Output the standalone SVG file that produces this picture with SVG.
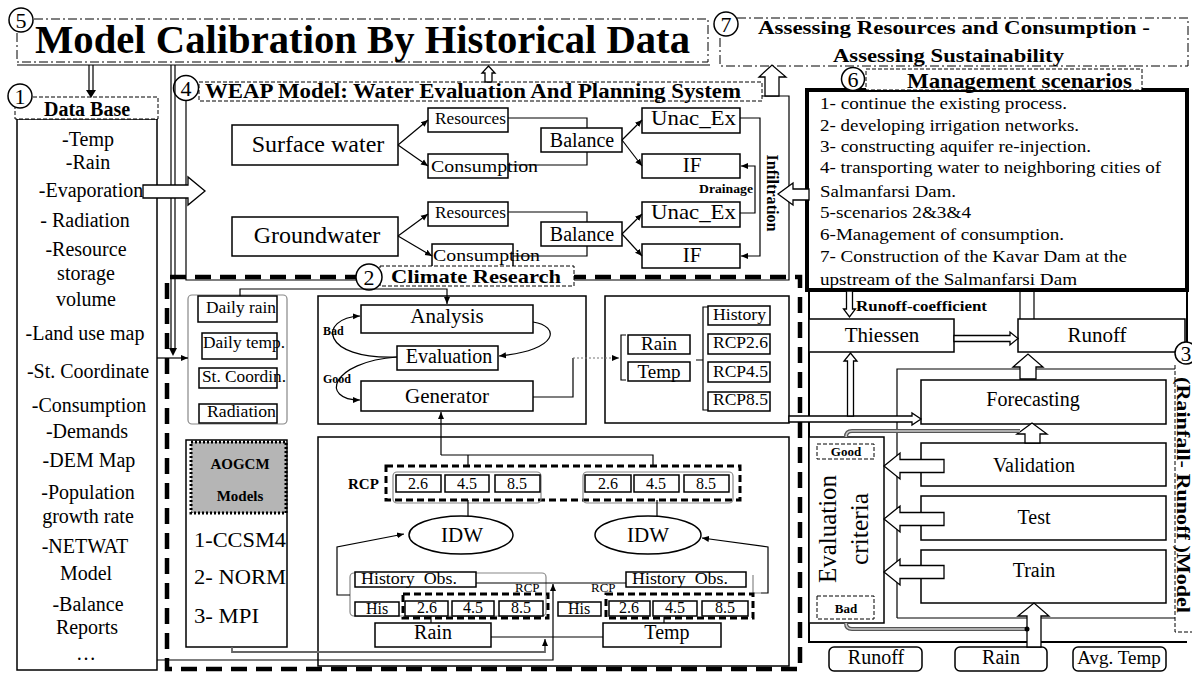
<svg xmlns="http://www.w3.org/2000/svg" width="1192" height="675" viewBox="0 0 1192 675">
<defs>
<style>
text{font-family:"Liberation Serif","Times New Roman",serif;fill:#000}
.b{font-weight:bold}
.m{text-anchor:middle}
.bx{fill:#fff;stroke:#000;stroke-width:1.5}
.ln{fill:none;stroke:#000;stroke-width:1.2}
.dl{fill:none;stroke:#000;stroke-width:1;stroke-dasharray:4 2}
.dlw{fill:#fff;stroke:#000;stroke-width:1;stroke-dasharray:4 2}
.dd{fill:none;stroke:#000;stroke-width:1;stroke-dasharray:9 3 2 3}
.td{fill:none;stroke:#000;stroke-width:3;stroke-dasharray:7 4}
.bd{fill:none;stroke:#000;stroke-width:4.5;stroke-dasharray:16 9}
.gr{fill:none;stroke:#888;stroke-width:1.2}
.oa{fill:#fff;stroke:#000;stroke-width:1.3}
.cn{fill:#fff;stroke:#000;stroke-width:1.5}
.gl{fill:none;stroke:#555;stroke-width:4}
.gli{fill:none;stroke:#ccc;stroke-width:1.5}
.dot{fill:none;stroke:#777;stroke-width:1.2;stroke-dasharray:2 2}
</style>
<marker id="ah" markerWidth="8" markerHeight="8" refX="7" refY="4" orient="auto" markerUnits="userSpaceOnUse"><path d="M0,1 L7,4 L0,7 z" fill="#000"/></marker>
</defs>
<rect width="1192" height="675" fill="#fff"/>

<g id="climate-frame">
<path d="M170,277 H800 V669 H167 V277" class="bd"/>
</g>

<g id="n5">
<rect x="17" y="19" width="691" height="43" class="dd"/>
<line x1="17" y1="65" x2="710" y2="65" class="ln"/>
<text x="35" y="53" font-size="39" class="b" textLength="655" lengthAdjust="spacingAndGlyphs">Model Calibration By Historical Data</text>
<circle cx="21" cy="20" r="12" class="cn"/><text x="21" y="28" font-size="22" class="m">5</text>
</g>

<g id="n7">
<rect x="720" y="18" width="468" height="48" class="dd"/>
<text x="758" y="34" font-size="19" class="b" textLength="392" lengthAdjust="spacingAndGlyphs">Assessing Resources and Consumption -</text>
<text x="833" y="62" font-size="19" class="b" textLength="231" lengthAdjust="spacingAndGlyphs">Assessing Sustainability</text>
<circle cx="726" cy="24" r="12" class="cn"/><text x="726" y="32" font-size="22" class="m">7</text>
</g>

<g id="n1">
<rect x="17" y="119" width="140" height="551" class="bx"/>
<rect x="15" y="97" width="143" height="22" class="dlw"/>
<text x="87" y="116" font-size="20" class="b m">Data Base</text>
<circle cx="20" cy="96" r="12" class="cn"/><text x="20" y="104" font-size="22" class="m">1</text>
<g font-size="20">
<text x="88" y="146" class="m">-Temp</text>
<text x="88" y="169" class="m">-Rain</text>
<text x="91" y="197" class="m">-Evaporation</text>
<text x="85" y="227" class="m">- Radiation</text>
<text x="86" y="256" class="m">-Resource</text>
<text x="86" y="280" class="m">storage</text>
<text x="86" y="306" class="m">volume</text>
<text x="85" y="340" class="m">-Land use map</text>
<text x="88" y="378" class="m">-St. Coordinate</text>
<text x="89" y="412" class="m">-Consumption</text>
<text x="87" y="438" class="m">-Demands</text>
<text x="89" y="467" class="m">-DEM Map</text>
<text x="88" y="499" class="m">-Population</text>
<text x="88" y="523" class="m">growth rate</text>
<text x="85" y="553" class="m">-NETWAT</text>
<text x="86" y="580" class="m">Model</text>
<text x="88" y="611" class="m">-Balance</text>
<text x="87" y="634" class="m">Reports</text>
<text x="86" y="660" class="m">…</text>
</g>
</g>

<g id="n4">
<path d="M186,101 V280 H789 V96 H762" class="ln"/>
<rect x="199" y="82" width="563" height="19" class="dlw"/>
<text x="205" y="98" font-size="20" class="b" textLength="536" lengthAdjust="spacingAndGlyphs">WEAP Model: Water Evaluation And Planning System</text>
<circle cx="186" cy="88" r="12.5" class="cn"/><text x="186" y="96" font-size="22" class="m">4</text>

<rect x="232" y="125" width="166" height="40" class="bx"/>
<text x="318" y="152" font-size="24" class="m">Surface water</text>
<rect x="232" y="217" width="166" height="39" class="bx"/>
<text x="317" y="243" font-size="24" class="m">Groundwater</text>

<rect x="428" y="108" width="80" height="24" class="bx"/>
<text x="435" y="124" font-size="17" textLength="71" lengthAdjust="spacingAndGlyphs">Resources</text>
<rect x="428" y="154" width="80" height="24" class="bx"/>
<text x="431" y="172" font-size="17" textLength="107" lengthAdjust="spacingAndGlyphs">Consumption</text>
<rect x="428" y="202" width="80" height="24" class="bx"/>
<text x="435" y="218" font-size="17" textLength="71" lengthAdjust="spacingAndGlyphs">Resources</text>
<rect x="432" y="244" width="81" height="24" class="bx"/>
<text x="433" y="261" font-size="17" textLength="107" lengthAdjust="spacingAndGlyphs">Consumption</text>

<rect x="541" y="128" width="81" height="24" class="bx"/>
<text x="582" y="147" font-size="20" class="m">Balance</text>
<rect x="541" y="222" width="81" height="24" class="bx"/>
<text x="582" y="241" font-size="20" class="m">Balance</text>

<rect x="642" y="108" width="98" height="25" class="bx"/>
<text x="651" y="125" font-size="21" textLength="85" lengthAdjust="spacingAndGlyphs">Unac_Ex</text>
<rect x="642" y="154" width="98" height="24" class="bx"/>
<text x="692" y="172" font-size="21" class="m">IF</text>
<rect x="642" y="202" width="98" height="25" class="bx"/>
<text x="651" y="219" font-size="21" textLength="85" lengthAdjust="spacingAndGlyphs">Unac_Ex</text>
<rect x="642" y="244" width="98" height="24" class="bx"/>
<text x="692" y="262" font-size="21" class="m">IF</text>

<text x="699" y="193" font-size="13" class="b" textLength="54" lengthAdjust="spacingAndGlyphs">Drainage</text>
<text transform="translate(767,193) rotate(90)" font-size="16" class="b m" textLength="77" lengthAdjust="spacingAndGlyphs">Infiltration</text>
</g>

<g id="n6">
<rect x="807" y="90" width="380" height="200" fill="#fff" stroke="#000" stroke-width="4"/>
<rect x="866" y="69" width="276" height="21" class="dlw"/>
<text x="907" y="88" font-size="21" class="b" textLength="225" lengthAdjust="spacingAndGlyphs">Management scenarios</text>
<circle cx="853" cy="79" r="11.5" class="cn"/><text x="853" y="87" font-size="22" class="m">6</text>
<g font-size="16">
<text x="820" y="109" textLength="247" lengthAdjust="spacingAndGlyphs">1- continue the existing process.</text>
<text x="820" y="131" textLength="259" lengthAdjust="spacingAndGlyphs">2- developing irrigation networks.</text>
<text x="820" y="152" textLength="271" lengthAdjust="spacingAndGlyphs">3- constructing aquifer re-injection.</text>
<text x="820" y="173" textLength="341" lengthAdjust="spacingAndGlyphs">4- transporting water to neighboring cities of</text>
<text x="820" y="197" textLength="136" lengthAdjust="spacingAndGlyphs">Salmanfarsi Dam.</text>
<text x="820" y="218" textLength="151" lengthAdjust="spacingAndGlyphs">5-scenarios 2&amp;3&amp;4</text>
<text x="820" y="240" textLength="244" lengthAdjust="spacingAndGlyphs">6-Management of consumption.</text>
<text x="820" y="262" textLength="307" lengthAdjust="spacingAndGlyphs">7- Construction of the Kavar Dam at the</text>
<text x="820" y="285" textLength="257" lengthAdjust="spacingAndGlyphs">upstream of the Salmanfarsi Dam</text>
</g>
</g>

<g id="n2">
<rect x="380" y="266" width="194" height="20" class="dlw"/>
<text x="391" y="283" font-size="19" class="b" textLength="170" lengthAdjust="spacingAndGlyphs">Climate Research</text>
<circle cx="369" cy="277" r="13" class="cn"/><text x="369" y="285" font-size="22" class="m">2</text>
</g>

<g id="inputs-list">
<rect x="188" y="295" width="99" height="129" rx="4" class="gr"/>
<rect x="198" y="296" width="79" height="26" class="bx"/>
<text x="206" y="313" font-size="17" textLength="70" lengthAdjust="spacingAndGlyphs">Daily rain</text>
<rect x="202" y="333" width="75" height="26" class="bx"/>
<text x="203" y="348" font-size="17" textLength="82" lengthAdjust="spacingAndGlyphs">Daily temp.</text>
<rect x="199" y="368" width="78" height="20" class="bx"/>
<text x="202" y="382" font-size="16" textLength="84" lengthAdjust="spacingAndGlyphs">St. Coordin.</text>
<rect x="199" y="404" width="78" height="19" class="bx"/>
<text x="207" y="417" font-size="16" textLength="69" lengthAdjust="spacingAndGlyphs">Radiation</text>
</g>

<g id="generator-block">
<rect x="318" y="296" width="268" height="128" class="bx"/>
<rect x="361" y="305" width="172" height="28" class="bx"/>
<text x="447" y="323" font-size="21" class="m">Analysis</text>
<rect x="397" y="346" width="101" height="24" class="bx"/>
<text x="449" y="363" font-size="20" class="m">Evaluation</text>
<rect x="361" y="381" width="172" height="30" class="bx"/>
<text x="447" y="403" font-size="21" class="m">Generator</text>
<text x="323" y="335" font-size="12" class="b">Bad</text>
<text x="323" y="383" font-size="12" class="b">Good</text>
</g>

<g id="rcp-list">
<rect x="605" y="296" width="184" height="127" class="bx"/>
<path d="M626,335 H621 V380 H626" class="ln"/>
<rect x="628" y="335" width="62" height="19" class="bx"/>
<text x="659" y="350" font-size="19" class="m">Rain</text>
<rect x="628" y="362" width="62" height="19" class="bx"/>
<text x="659" y="378" font-size="19" class="m">Temp</text>
<path d="M708,307 H703 V410 H708 M703,360 H696" class="ln"/>
<rect x="708" y="306" width="62" height="19" class="bx"/>
<text x="713" y="320" font-size="17" textLength="53" lengthAdjust="spacingAndGlyphs">History</text>
<rect x="708" y="334" width="62" height="20" class="bx"/>
<text x="713" y="348" font-size="17" textLength="55" lengthAdjust="spacingAndGlyphs">RCP2.6</text>
<rect x="708" y="362" width="62" height="20" class="bx"/>
<text x="713" y="377" font-size="17" textLength="55" lengthAdjust="spacingAndGlyphs">RCP4.5</text>
<rect x="708" y="392" width="62" height="19" class="bx"/>
<text x="713" y="405" font-size="17" textLength="55" lengthAdjust="spacingAndGlyphs">RCP8.5</text>
</g>

<g id="aogcm">
<rect x="186" y="440" width="101" height="207" class="bx"/>
<rect x="191" y="442" width="95" height="71" fill="#b5b5b5" stroke="#000" stroke-width="3" stroke-dasharray="2 2"/>
<text x="240" y="469" font-size="15" class="b m">AOGCM</text>
<text x="240" y="501" font-size="15" class="b m">Models</text>
<text x="194" y="547" font-size="21" textLength="92" lengthAdjust="spacingAndGlyphs">1-CCSM4</text>
<text x="194" y="584" font-size="21" textLength="92" lengthAdjust="spacingAndGlyphs">2- NORM</text>
<text x="194" y="623" font-size="21" textLength="65" lengthAdjust="spacingAndGlyphs">3- MPI</text>
</g>

<g id="downscale">
<rect x="318" y="437" width="471" height="229" class="bx"/>
<rect x="386" y="466" width="354" height="34" class="td"/>
<text x="348" y="489" font-size="15" class="b">RCP</text>
<rect x="393" y="472" width="148" height="31" rx="4" class="gr"/>
<rect x="583" y="472" width="150" height="31" rx="4" class="gr"/>
<rect x="396" y="475" width="45" height="17" class="bx"/><text x="418" y="489" font-size="16" class="m">2.6</text>
<rect x="445" y="475" width="44" height="17" class="bx"/><text x="467" y="489" font-size="16" class="m">4.5</text>
<rect x="495" y="475" width="45" height="17" class="bx"/><text x="517" y="489" font-size="16" class="m">8.5</text>
<rect x="585" y="475" width="46" height="17" class="bx"/><text x="608" y="489" font-size="16" class="m">2.6</text>
<rect x="634" y="475" width="45" height="17" class="bx"/><text x="656" y="489" font-size="16" class="m">4.5</text>
<rect x="684" y="475" width="45" height="17" class="bx"/><text x="706" y="489" font-size="16" class="m">8.5</text>

<ellipse cx="461" cy="535" rx="52" ry="19" class="bx"/>
<text x="462" y="542" font-size="21" class="m">IDW</text>
<ellipse cx="648" cy="535" rx="53" ry="19" class="bx"/>
<text x="648" y="542" font-size="21" class="m">IDW</text>

<rect x="350" y="573" width="196" height="43" rx="4" class="gr"/>
<rect x="355" y="572" width="121" height="15" class="bx"/>
<text x="361" y="584" font-size="16" textLength="96" lengthAdjust="spacingAndGlyphs">History&#160; Obs.</text>
<rect x="355" y="602" width="44" height="14" class="bx"/>
<text x="377" y="614" font-size="16" class="m">His</text>
<rect x="403" y="594" width="145" height="24" class="td"/>
<rect x="405" y="601" width="43" height="15" class="bx"/><text x="427" y="613" font-size="16" class="m">2.6</text>
<rect x="452" y="601" width="42" height="15" class="bx"/><text x="473" y="613" font-size="16" class="m">4.5</text>
<rect x="499" y="601" width="44" height="15" class="bx"/><text x="521" y="613" font-size="16" class="m">8.5</text>
<text x="515" y="592" font-size="13">RCP</text>
<rect x="375" y="623" width="116" height="24" class="bx"/>
<text x="433" y="639" font-size="20" class="m">Rain</text>

<path d="M753,575 V593 H761" class="gr"/>
<rect x="626" y="572" width="120" height="15" class="bx"/>
<text x="632" y="584" font-size="16" textLength="96" lengthAdjust="spacingAndGlyphs">History&#160; Obs.</text>
<rect x="558" y="602" width="43" height="14" class="bx"/>
<text x="579" y="614" font-size="16" class="m">His</text>
<rect x="606" y="594" width="147" height="24" class="td"/>
<rect x="609" y="601" width="41" height="15" class="bx"/><text x="629" y="613" font-size="16" class="m">2.6</text>
<rect x="653" y="601" width="44" height="15" class="bx"/><text x="675" y="613" font-size="16" class="m">4.5</text>
<rect x="702" y="601" width="46" height="15" class="bx"/><text x="725" y="613" font-size="16" class="m">8.5</text>
<text x="591" y="592" font-size="13">RCP</text>
<rect x="603" y="623" width="118" height="24" class="bx"/>
<text x="667" y="639" font-size="20" class="m">Temp</text>
</g>

<g id="n3">
<path d="M809,290 V642 H1187 M1187,290 V342" fill="none" stroke="#000" stroke-width="2"/>
<text x="856" y="311" font-size="15" class="b" textLength="131" lengthAdjust="spacingAndGlyphs">Runoff-coefficient</text>
<rect x="809" y="319" width="145" height="33" class="bx"/>
<text x="882" y="342" font-size="21" class="m">Thiessen</text>
<rect x="1018" y="319" width="167" height="33" class="bx"/>
<text x="1097" y="342" font-size="21" class="m">Runoff</text>
<line x1="1020" y1="290" x2="1020" y2="319" class="ln"/>
<line x1="1034" y1="290" x2="1034" y2="319" class="ln"/>
<path d="M897,618 V369 H1175 M897,618 H1175" class="ln" stroke-width="1.5"/>
<rect x="921" y="380" width="245" height="44" class="bx"/>
<text x="1033" y="406" font-size="20" class="m">Forecasting</text>
<rect x="921" y="443" width="245" height="43" class="bx"/>
<text x="1034" y="472" font-size="20" class="m">Validation</text>
<rect x="921" y="496" width="245" height="44" class="bx"/>
<text x="1034" y="524" font-size="20" class="m">Test</text>
<rect x="921" y="550" width="245" height="53" class="bx"/>
<text x="1034" y="577" font-size="20" class="m">Train</text>

<rect x="809" y="437" width="75" height="186" class="bx"/>
<rect x="817" y="444" width="57" height="15" class="dl"/>
<text x="846" y="456" font-size="13" class="b m">Good</text>
<rect x="817" y="596" width="57" height="23" class="dl"/>
<text x="846" y="613" font-size="13" class="b m">Bad</text>
<text transform="translate(836,529) rotate(-90)" font-size="25" class="m" textLength="108" lengthAdjust="spacingAndGlyphs">Evaluation</text>
<text transform="translate(868,529) rotate(-90)" font-size="25" class="m" textLength="72" lengthAdjust="spacingAndGlyphs">criteria</text>

<path d="M1175,365 V632 H1192" class="dl"/>
<text transform="translate(1177,495) rotate(90)" font-size="19" class="b m" textLength="236" lengthAdjust="spacingAndGlyphs">(Rainfall- Runoff )Model</text>
<circle cx="1186" cy="353" r="11" class="cn"/><text x="1186" y="361" font-size="21" class="m">3</text>

<rect x="829" y="647" width="93" height="24" rx="5" class="bx"/>
<text x="876" y="664" font-size="20" class="m">Runoff</text>
<rect x="955" y="647" width="92" height="24" rx="5" class="bx"/>
<text x="1001" y="664" font-size="20" class="m">Rain</text>
<rect x="1073" y="647" width="93" height="24" rx="5" class="bx"/>
<text x="1119" y="664" font-size="19" class="m">Avg. Temp</text>
</g>

<g id="connectors">
<path d="M89,65 V90 M93,65 V90" class="ln"/>
<path d="M86,90 H96 L91,98 z" fill="#000"/>
<path d="M171,65 V350 M175,65 V350" class="ln"/>
<path d="M169,348 H177 L173,356 z" fill="#000"/>
<line x1="157" y1="358" x2="188" y2="358" class="ln" stroke-width="2" marker-end="url(#ah)"/>
<polygon points="143,185 188,185 188,177 205,191 188,205 188,198 143,198" class="oa"/>
<polygon points="485,82 485,73 482,73 488.5,66 495,73 492,73 492,82" class="oa"/>
<polygon points="765,96 765,77 759,77 772,65 786,77 779,77 779,96" class="oa"/>
<polygon points="809,189 793,189 793,183 778,194 793,205 793,200 809,200" class="oa"/>

<line x1="398" y1="145" x2="428" y2="120" class="ln" marker-end="url(#ah)"/>
<line x1="398" y1="145" x2="428" y2="166" class="ln" marker-end="url(#ah)"/>
<line x1="398" y1="236" x2="428" y2="214" class="ln" marker-end="url(#ah)"/>
<line x1="398" y1="236" x2="432" y2="256" class="ln" marker-end="url(#ah)"/>
<path d="M508,118 H587 V128 M508,165 H587 V152" class="ln"/>
<path d="M508,212 H587 V222 M513,256 H587 V246" class="ln"/>
<line x1="622" y1="140" x2="642" y2="120" class="ln" marker-end="url(#ah)"/>
<line x1="622" y1="140" x2="642" y2="166" class="ln" marker-end="url(#ah)"/>
<line x1="622" y1="234" x2="642" y2="214" class="ln" marker-end="url(#ah)"/>
<line x1="622" y1="234" x2="642" y2="256" class="ln" marker-end="url(#ah)"/>
<path d="M740,118 H760 V256 H741" class="ln" marker-end="url(#ah)"/>
<path d="M740,213 H755 V166 H741" class="ln" marker-end="url(#ah)"/>

<path d="M240,296 V289 H447 V304" class="ln" marker-end="url(#ah)"/>
<path d="M533,322 C560,326 560,350 499,356" class="ln" marker-end="url(#ah)"/>
<path d="M397,357 C320,360 318,318 360,316" class="ln" marker-end="url(#ah)"/>
<path d="M397,357 C330,362 320,400 360,400" class="ln" marker-end="url(#ah)"/>
<path d="M533,397 H573 V358" class="ln"/>
<line x1="573" y1="358" x2="619" y2="358" class="dot" marker-end="url(#ah)"/>
<path d="M441,455 V412" class="ln" marker-end="url(#ah)"/>
<path d="M441,455 H653 V466 M468,455 V466" class="ln"/>
<line x1="468" y1="500" x2="468" y2="516" class="ln"/>
<line x1="657" y1="500" x2="657" y2="516" class="ln"/>
<path d="M350,595 H337 V547 L404,534" class="ln" marker-end="url(#ah)"/>
<path d="M761,593 H768 V547 L702,538" class="ln" marker-end="url(#ah)"/>
<line x1="476" y1="583" x2="626" y2="583" class="ln"/>
<path d="M157,660 H553 V584" class="ln" stroke-width="1.5" marker-end="url(#ah)"/>
<path d="M491,637 H603" class="ln"/>
<path d="M232,647 V652 H545 V639" fill="none" stroke="#666" stroke-width="1.8" marker-end="url(#ah)"/>
<line x1="431" y1="616" x2="431" y2="623" class="ln"/>
<line x1="664" y1="617" x2="664" y2="623" class="ln"/>

<polygon points="789,416 912,416 912,413 921,419 912,425 912,422 789,422" class="oa"/>
<polygon points="847.5,416 847.5,361 844,361 850.5,353 857,361 853.5,361 853.5,416" class="oa"/>
<polygon points="846.5,291 852.5,291 852.5,309 855.5,309 849.5,317 843.5,309 846.5,309" class="oa"/>
<polygon points="954,335.5 1010,335.5 1010,332 1018,338.5 1010,345 1010,341.5 954,341.5" class="oa"/>
<polygon points="1020,379 1020,367 1013,367 1028,354 1043,367 1036,367 1036,379" class="oa"/>
<polygon points="1025,443 1025,434 1017,434 1032,423 1047,434 1040,434 1040,443" class="oa"/>
<polygon points="1027,647 1027,616 1018,616 1034,603 1049,616 1041,616 1041,647" class="oa"/>
<polygon points="944,459.5 900,459.5 900,453 884,466 900,479 900,472.5 944,472.5" class="oa"/>
<polygon points="944,512.5 900,512.5 900,506 884,519 900,532 900,525.5 944,525.5" class="oa"/>
<polygon points="944,565.5 900,565.5 900,559 884,572 900,585 900,578.5 944,578.5" class="oa"/>
<path d="M846,437 Q846,431 852,431 H1020" class="gl"/>
<path d="M846,437 Q846,431 852,431 H1020" class="gli"/>
<path d="M846,623 Q846,629 852,629 H1027" class="gl"/>
<path d="M846,623 Q846,629 852,629 H1027" class="gli"/>
<circle cx="1027" cy="629" r="2.5" fill="#000"/>
</g>
</svg>
